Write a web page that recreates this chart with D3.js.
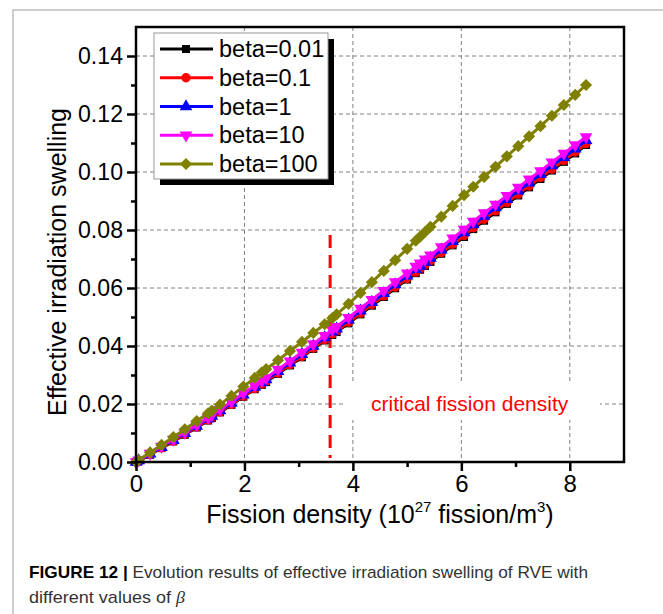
<!DOCTYPE html>
<html>
<head>
<meta charset="utf-8">
<script src="https://cdn.jsdelivr.net/npm/d3@7"></script>
<style>
  body { margin: 0; background: #fff; }
  text { font-family: "Liberation Sans", Arial, sans-serif; }
</style>
</head>
<body>
<div id="chart"></div>
<script>
// fission density (10^27 fission/m^3), shared by all curves
const fission = [0, 0.05, 0.26, 0.47, 0.69, 0.90, 1.12, 1.33, 1.40, 1.55,
  1.76, 1.98, 2.19, 2.32, 2.40, 2.62, 2.84, 3.06, 3.27, 3.48,
  3.62, 3.70, 3.92, 4.14, 4.35, 4.57, 4.78, 5.00, 5.16, 5.24,
  5.33, 5.43, 5.63, 5.84, 6.05, 6.22, 6.42, 6.63, 6.84, 7.05,
  7.25, 7.46, 7.67, 7.89, 8.10, 8.30];

// effective swelling for each beta
const beta001 = [0, 0.0004, 0.0025, 0.0048, 0.0071, 0.0094, 0.0119, 0.0143, 0.0152, 0.0171,
  0.0197, 0.0225, 0.0251, 0.0266, 0.0276, 0.0304, 0.0333, 0.0361, 0.0390, 0.0419,
  0.0438, 0.0448, 0.0478, 0.0509, 0.0539, 0.0569, 0.0599, 0.0629, 0.0651, 0.0663,
  0.0676, 0.0690, 0.0718, 0.0747, 0.0776, 0.0803, 0.0832, 0.0861, 0.0890, 0.0919,
  0.0947, 0.0976, 0.1005, 0.1035, 0.1064, 0.1093];
const beta01 = [0, 0.0004, 0.0026, 0.0049, 0.0072, 0.0096, 0.0121, 0.0145, 0.0154, 0.0173,
  0.0199, 0.0227, 0.0253, 0.0269, 0.0279, 0.0307, 0.0336, 0.0364, 0.0393, 0.0422,
  0.0442, 0.0452, 0.0482, 0.0513, 0.0543, 0.0573, 0.0603, 0.0633, 0.0655, 0.0667,
  0.0680, 0.0694, 0.0722, 0.0751, 0.0781, 0.0808, 0.0837, 0.0866, 0.0895, 0.0924,
  0.0952, 0.0981, 0.1010, 0.1040, 0.1069, 0.1098];
const beta1 = [0, 0.0005, 0.0028, 0.0051, 0.0075, 0.0099, 0.0124, 0.0149, 0.0158, 0.0177,
  0.0203, 0.0232, 0.0258, 0.0274, 0.0284, 0.0313, 0.0342, 0.0371, 0.0400, 0.0429,
  0.0449, 0.0459, 0.0490, 0.0521, 0.0551, 0.0582, 0.0612, 0.0642, 0.0664, 0.0676,
  0.0689, 0.0703, 0.0732, 0.0761, 0.0791, 0.0819, 0.0848, 0.0877, 0.0906, 0.0935,
  0.0963, 0.0992, 0.1022, 0.1051, 0.1080, 0.1109];
const beta10 = [0, 0.0006, 0.0030, 0.0054, 0.0078, 0.0102, 0.0128, 0.0153, 0.0162, 0.0181,
  0.0208, 0.0237, 0.0263, 0.0280, 0.0290, 0.0319, 0.0348, 0.0378, 0.0407, 0.0436,
  0.0456, 0.0467, 0.0498, 0.0530, 0.0560, 0.0591, 0.0621, 0.0651, 0.0674, 0.0686,
  0.0699, 0.0713, 0.0742, 0.0772, 0.0802, 0.0830, 0.0859, 0.0888, 0.0918, 0.0947,
  0.0975, 0.1004, 0.1034, 0.1064, 0.1093, 0.1121];
const beta100 = [0, 0.0007, 0.0033, 0.0059, 0.0086, 0.0113, 0.0141, 0.0168, 0.0177, 0.0198,
  0.0228, 0.0260, 0.0290, 0.0309, 0.0320, 0.0351, 0.0383, 0.0414, 0.0445, 0.0475,
  0.0496, 0.0509, 0.0545, 0.0583, 0.0620, 0.0659, 0.0696, 0.0735, 0.0763, 0.0777,
  0.0793, 0.0811, 0.0846, 0.0883, 0.0920, 0.0949, 0.0983, 0.1018, 0.1054, 0.1089,
  0.1123, 0.1158, 0.1194, 0.1231, 0.1266, 0.1300];

const seriesNames = ['beta=0.01', 'beta=0.1', 'beta=1', 'beta=10', 'beta=100'];
const seriesValues = [beta001, beta01, beta1, beta10, beta100];
const seriesColors = ['#000000', '#ff0000', '#0000ff', '#ff00ff', '#808000'];

const xTicks = [0, 2, 4, 6, 8];
const xMinor = [1, 3, 5, 7];
const yTicks = [0, 0.02, 0.04, 0.06, 0.08, 0.10, 0.12, 0.14];
const yMinor = [0.01, 0.03, 0.05, 0.07, 0.09, 0.11, 0.13];

// critical fission density marker
const critical = 3.58;
const criticalSpan = [0.0014, 0.0783];

const width = 663;
const height = 614;
const plot = { left: 136, right: 624, top: 27, bottom: 462 };

const svg = d3.select('#chart')
  .append('svg')
  .attr('width', width)
  .attr('height', height);

// grey frame around the figure
svg.append('rect')
  .attr('x', 13).attr('y', 10)
  .attr('width', 720).attr('height', 720)
  .attr('fill', 'none')
  .attr('stroke', '#bdbdbd')
  .attr('stroke-width', 1.5);

const x = d3.scaleLinear().domain([0, 9]).range([plot.left, plot.right]);
const y = d3.scaleLinear().domain([0, 0.15]).range([plot.bottom, plot.top]);

// dashed grid
const grid = svg.append('g').attr('stroke', '#808080').attr('stroke-width', 1)
  .attr('stroke-dasharray', '4,3');
grid.selectAll('line.gx')
  .data(xTicks.filter(d => d > 0))
  .enter().append('line')
  .attr('x1', d => x(d)).attr('x2', d => x(d))
  .attr('y1', plot.top).attr('y2', plot.bottom);
grid.selectAll('line.gy')
  .data(yTicks.filter(d => d > 0))
  .enter().append('line')
  .attr('x1', plot.left).attr('x2', plot.right)
  .attr('y1', d => y(d)).attr('y2', d => y(d));

// white box behind the annotation
svg.append('rect')
  .attr('x', 345).attr('y', 383)
  .attr('width', 255).attr('height', 37)
  .attr('fill', '#fff');

svg.append('text')
  .attr('x', 371).attr('y', 411)
  .attr('fill', '#ff0000')
  .attr('font-size', 21)
  .text('critical fission density');

// red dashed line at the critical fission density
svg.append('line')
  .attr('x1', x(critical)).attr('x2', x(critical))
  .attr('y1', y(criticalSpan[1])).attr('y2', y(criticalSpan[0]))
  .attr('stroke', '#ff0000')
  .attr('stroke-width', 3)
  .attr('stroke-dasharray', '13,7');

// marker shapes for each series
const markerSymbols = [
  { type: d3.symbolSquare, size: 64, rotate: 0 },
  { type: d3.symbolCircle, size: 70, rotate: 0 },
  { type: d3.symbolTriangle, size: 70, rotate: 0 },
  { type: d3.symbolTriangle, size: 70, rotate: 180 },
  { type: d3.symbolSquare, size: 74, rotate: 45 }
];

const line = d3.line()
  .x((d, i) => x(fission[i]))
  .y(d => y(d));

seriesValues.forEach((vals, k) => {
  const g = svg.append('g');
  g.append('path')
    .attr('d', line(vals))
    .attr('fill', 'none')
    .attr('stroke', seriesColors[k])
    .attr('stroke-width', 3);
  const sym = d3.symbol().type(markerSymbols[k].type).size(markerSymbols[k].size);
  g.selectAll('path.m')
    .data(vals)
    .enter().append('path')
    .attr('class', 'm')
    .attr('d', sym)
    .attr('transform', (d, i) => `translate(${x(fission[i])},${y(d)}) rotate(${markerSymbols[k].rotate})`)
    .attr('fill', seriesColors[k]);
});

// axes
const fontSize = 24;
const xAxis = svg.append('g')
  .attr('transform', `translate(0,${plot.bottom})`)
  .call(d3.axisBottom(x).tickValues(xTicks).tickSize(9).tickPadding(4).tickFormat(d3.format('d')));
const xAxisMinor = svg.append('g')
  .attr('transform', `translate(0,${plot.bottom})`)
  .call(d3.axisBottom(x).tickValues(xMinor).tickSize(5).tickFormat(''));
const yAxis = svg.append('g')
  .attr('transform', `translate(${plot.left},0)`)
  .call(d3.axisLeft(y).tickValues(yTicks).tickSize(9).tickPadding(4).tickFormat(d3.format('.2f')));
const yAxisMinor = svg.append('g')
  .attr('transform', `translate(${plot.left},0)`)
  .call(d3.axisLeft(y).tickValues(yMinor).tickSize(5).tickFormat(''));

[xAxis, xAxisMinor, yAxis, yAxisMinor].forEach(a => {
  a.select('.domain').remove();
  a.selectAll('.tick line').attr('stroke', '#000').attr('stroke-width', 2.5);
  a.selectAll('.tick text')
    .attr('font-family', '"Liberation Sans", Arial, sans-serif')
    .attr('font-size', fontSize)
    .attr('fill', '#000');
});
// Origin's labels are a little narrower than Arial
yAxis.selectAll('.tick text').attr('textLength', 45).attr('lengthAdjust', 'spacingAndGlyphs');

// frame of the plot
svg.append('rect')
  .attr('x', plot.left).attr('y', plot.top)
  .attr('width', plot.right - plot.left)
  .attr('height', plot.bottom - plot.top)
  .attr('fill', 'none')
  .attr('stroke', '#000')
  .attr('stroke-width', 2.5);

// axis titles
const xTitle = svg.append('text')
  .attr('x', (plot.left + plot.right) / 2)
  .attr('y', 523)
  .attr('text-anchor', 'middle')
  .attr('font-size', 25)
  .attr('fill', '#000');
xTitle.append('tspan').text('Fission density (10');
xTitle.append('tspan').attr('font-size', 15).attr('dy', -11).text('27');
xTitle.append('tspan').attr('dy', 11).text(' fission/m');
xTitle.append('tspan').attr('font-size', 15).attr('dy', -11).text('3');
xTitle.append('tspan').attr('dy', 11).text(')');

svg.append('text')
  .attr('transform', 'translate(66,262) rotate(-90)')
  .attr('text-anchor', 'middle')
  .attr('font-size', 25)
  .attr('fill', '#000')
  .text('Effective irradiation swelling');

// legend
const legend = svg.append('g');
legend.append('rect')
  .attr('x', 160).attr('y', 39)
  .attr('width', 174).attr('height', 146)
  .attr('fill', '#000');
legend.append('rect')
  .attr('x', 154).attr('y', 33)
  .attr('width', 174).attr('height', 146)
  .attr('fill', '#fff')
  .attr('stroke', '#999')
  .attr('stroke-width', 1);

const rowY = d3.scaleLinear().domain([0, 4]).range([49, 164]);
seriesNames.forEach((name, k) => {
  const cy = rowY(k);
  legend.append('line')
    .attr('x1', 160).attr('x2', 213)
    .attr('y1', cy).attr('y2', cy)
    .attr('stroke', seriesColors[k])
    .attr('stroke-width', 3);
  legend.append('path')
    .attr('d', d3.symbol().type(markerSymbols[k].type).size(markerSymbols[k].size)())
    .attr('transform', `translate(186,${cy}) rotate(${markerSymbols[k].rotate})`)
    .attr('fill', seriesColors[k]);
  legend.append('text')
    .attr('x', 219).attr('y', cy + 8)
    .attr('font-size', 23.5)
    .attr('fill', '#000')
    .text(name);
});

// caption
const cap1 = svg.append('text')
  .attr('x', 29).attr('y', 578)
  .attr('font-size', 17)
  .attr('textLength', 559)
  .attr('lengthAdjust', 'spacingAndGlyphs');
cap1.append('tspan').attr('font-weight', 'bold').attr('fill', '#000').text('FIGURE 12 | ');
cap1.append('tspan').attr('fill', '#333').text('Evolution results of effective irradiation swelling of RVE with');

const cap2 = svg.append('text')
  .attr('x', 29).attr('y', 603)
  .attr('font-size', 17)
  .attr('fill', '#333')
  .attr('textLength', 156)
  .attr('lengthAdjust', 'spacingAndGlyphs');
cap2.append('tspan').text('different values of ');
cap2.append('tspan')
  .attr('font-family', '"Liberation Serif", "DejaVu Serif", serif')
  .attr('font-style', 'italic')
  .text('β');
</script>
</body>
</html>
